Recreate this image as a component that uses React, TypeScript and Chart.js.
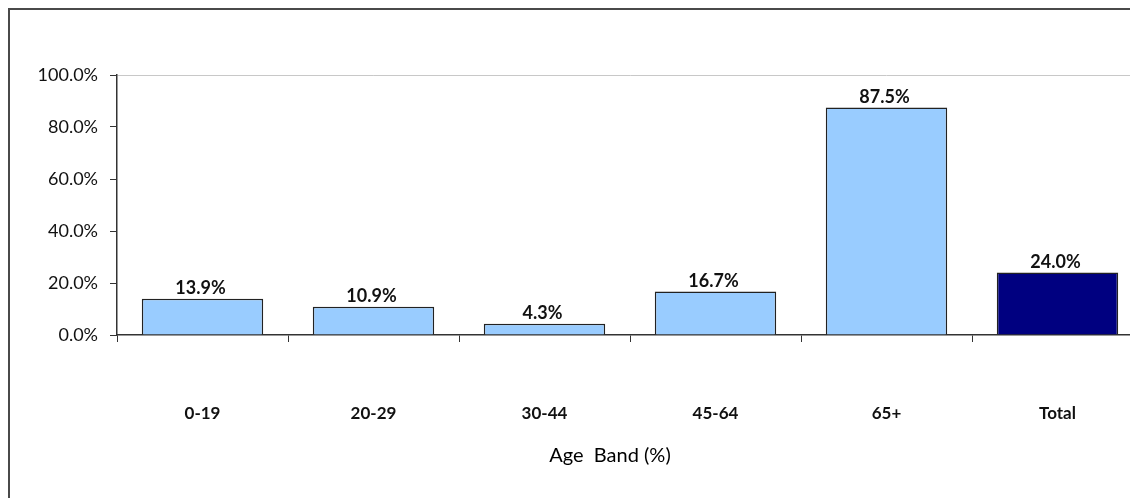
import React, { useEffect, useRef } from "react";
import { Chart, registerables } from "chart.js";

Chart.register(...registerables);

const categories = ["0-19", "20-29", "30-44", "45-64", "65+", "Total"];
const values = [13.9, 10.9, 4.3, 16.7, 87.5, 24.0];
const barColors = ["#99CCFF", "#99CCFF", "#99CCFF", "#99CCFF", "#99CCFF", "#000080"];
const yTicks = [0, 20, 40, 60, 80, 100];
const xTitle = "Age  Band (%)";

const FONT = "Lato, 'Noto Sans', sans-serif";

const labelPlugin = {
  id: "valueLabels",
  afterDatasetsDraw(chart: any) {
    const ctx = chart.ctx;
    const meta = chart.getDatasetMeta(0);
    ctx.save();
    ctx.font = `bold 18px ${FONT}`;
    ctx.fillStyle = "#111111";
    ctx.textAlign = "center";
    ctx.textBaseline = "alphabetic";
    meta.data.forEach((bar: any, i: number) => {
      ctx.fillText(values[i].toFixed(1) + "%", bar.x - 2, bar.y - 5);
    });
    ctx.restore();
  },
};

const titlePlugin = {
  id: "xTitle",
  afterDraw(chart: any) {
    const ctx = chart.ctx;
    const ca = chart.chartArea;
    ctx.save();
    ctx.font = `20px ${FONT}`;
    ctx.fillStyle = "#000000";
    ctx.textAlign = "center";
    ctx.textBaseline = "middle";
    ctx.fillText(xTitle, (ca.left + ca.right) / 2 - 20, 446);
    ctx.restore();
  },
};

export default function App() {
  const ref = useRef<HTMLCanvasElement>(null);
  useEffect(() => {
    if (!ref.current) return;
    const chart = new Chart(ref.current, {
      type: "bar",
      data: {
        labels: categories,
        datasets: [
          {
            data: values,
            backgroundColor: barColors,
            borderColor: "#222222",
            borderWidth: 1.5,
            categoryPercentage: 0.71,
            barPercentage: 1,
          },
        ],
      },
      options: {
        animation: false,
        responsive: false,
        maintainAspectRatio: false,
        layout: { padding: { top: 65, right: 67, left: 0, bottom: 0 } },
        plugins: { legend: { display: false }, tooltip: { enabled: false } },
        scales: {
          x: {
            afterFit: (s: any) => {
              s.height = 163;
            },
            grid: {
              offset: true,
              color: "rgba(0,0,0,0)",
              tickColor: "#333333",
              tickLength: 7,
              drawOnChartArea: false,
            },
            border: { color: "#333333", width: 1.5 },
            ticks: {
              color: "#111111",
              font: { family: FONT, size: 17, weight: "bold" },
              padding: 61,
              maxRotation: 0,
            },
          },
          y: {
            min: 0,
            max: 100,
            afterFit: (s: any) => {
              s.width = 107;
            },
            afterBuildTicks: (s: any) => {
              s.ticks = yTicks.map((v) => ({ value: v }));
            },
            grid: {
              color: (c: any) => (c.tick && c.tick.value === 100 ? "#c8c8c8" : "rgba(0,0,0,0)"),
              tickColor: "#333333",
              tickLength: 7,
            },
            border: { color: "#333333", width: 1.5 },
            ticks: {
              color: "#111111",
              font: { family: FONT, size: 18 },
              padding: 12,
              callback: (v: any) => Number(v).toFixed(1) + "%",
            },
          },
        },
      },
      plugins: [labelPlugin, titlePlugin],
    } as any);
    return () => chart.destroy();
  }, []);
  return (
    <div
      style={{
        position: "fixed",
        left: 8,
        top: 8,
        right: 0,
        bottom: 0,
        overflow: "hidden",
        borderLeft: "2px solid #4a4a4a",
        borderTop: "2px solid #4a4a4a",
        background: "#fff",
      }}
    >
      <canvas ref={ref} width={1200} height={488} style={{ display: "block" }} />
    </div>
  );
}
